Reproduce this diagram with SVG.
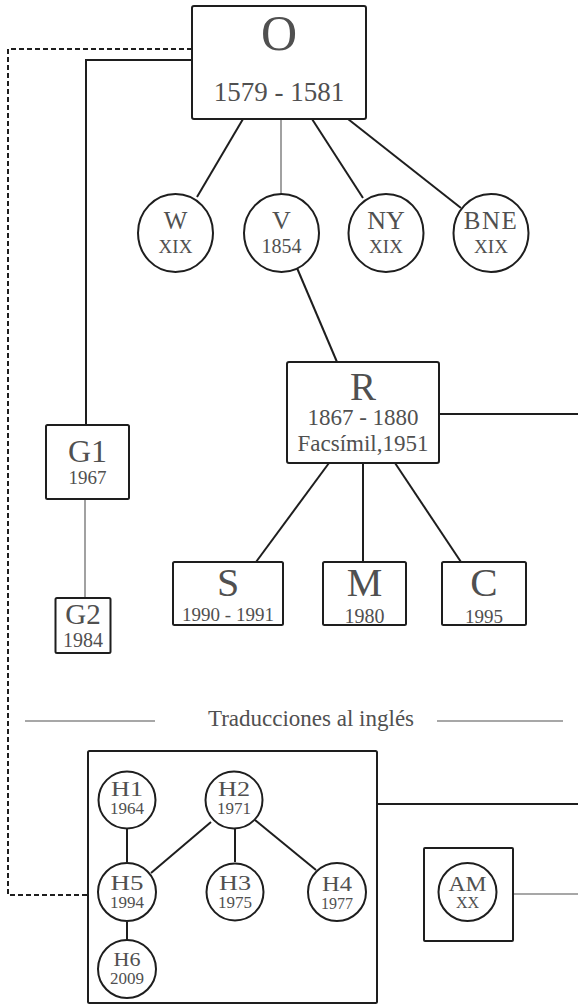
<svg xmlns="http://www.w3.org/2000/svg" width="578" height="1005" viewBox="0 0 578 1005">
<style>
.box{fill:#fff;stroke:#1e1e1e;stroke-width:2}
.nd{fill:#fff;stroke:#1e1e1e;stroke-width:2}
.ln{fill:none;stroke:#1e1e1e;stroke-width:2}
.gl{fill:none;stroke:#8a8a8a;stroke-width:1.6}
.dl{fill:none;stroke:#1e1e1e;stroke-width:2;stroke-dasharray:5 3}
text{font-family:"Liberation Serif","Times New Roman",serif;fill:#505050;text-anchor:middle}
</style>
<g id="connectors">
<polyline class="dl" points="192,49 8,49 8,895 88,895"/>
<polyline class="ln" points="192,60 86,60 86,425"/>
<line class="ln" x1="243" y1="119" x2="197" y2="197"/>
<line class="gl" x1="281" y1="119" x2="281" y2="194"/>
<line class="ln" x1="312" y1="119" x2="363" y2="198"/>
<line class="ln" x1="348" y1="119" x2="461" y2="208"/>
<line class="ln" x1="297" y1="268" x2="337" y2="362"/>
<line class="ln" x1="439" y1="414" x2="578" y2="414"/>
<line class="ln" x1="329" y1="463" x2="256" y2="562"/>
<line class="ln" x1="363" y1="463" x2="363" y2="562"/>
<line class="ln" x1="395" y1="463" x2="461" y2="562"/>
<line class="gl" x1="85" y1="499" x2="85" y2="598"/>
<line class="gl" x1="25" y1="721" x2="155" y2="721"/>
<line class="gl" x1="437" y1="721" x2="563" y2="721"/>
<line class="ln" x1="377" y1="804" x2="578" y2="804"/>
<line class="gl" x1="513" y1="894" x2="578" y2="894"/>
</g>
<g id="node-O">
<rect class="box" x="192" y="6" width="174" height="113" rx="2"/>
<text x="279" y="50" font-size="50">O</text>
<text x="279" y="101" font-size="27">1579 - 1581</text>
</g>
<g id="node-W">
<ellipse class="nd" cx="175.5" cy="233" rx="37.5" ry="39"/>
<text x="175.5" y="229" font-size="25">W</text>
<text x="175.5" y="253" font-size="19">XIX</text>
</g>
<g id="node-V">
<ellipse class="nd" cx="281.5" cy="233" rx="37.5" ry="39"/>
<text x="281.5" y="229" font-size="26">V</text>
<text x="281.5" y="253" font-size="20">1854</text>
</g>
<g id="node-NY">
<ellipse class="nd" cx="386" cy="233" rx="37.5" ry="39"/>
<text x="386" y="229" font-size="26">NY</text>
<text x="386" y="253" font-size="19">XIX</text>
</g>
<g id="node-BNE">
<ellipse class="nd" cx="491" cy="233" rx="37.5" ry="39"/>
<text x="491" y="229" font-size="25" letter-spacing="1.5">BNE</text>
<text x="491" y="253" font-size="19">XIX</text>
</g>
<g id="node-R">
<rect class="box" x="287" y="362" width="152" height="101" rx="2"/>
<text x="363" y="400" font-size="39">R</text>
<text x="363" y="425" font-size="23">1867 - 1880</text>
<text x="363" y="451" font-size="23">Facsímil,1951</text>
</g>
<g id="node-G1">
<rect class="box" x="46" y="425" width="83" height="74" rx="1.5"/>
<text x="87.5" y="462" font-size="32">G1</text>
<text x="87.5" y="484" font-size="19">1967</text>
</g>
<g id="node-G2">
<rect class="box" x="55.5" y="598" width="55" height="55" rx="1.5"/>
<text x="83" y="624" font-size="29">G2</text>
<text x="83" y="647" font-size="20">1984</text>
</g>
<g id="node-S">
<rect class="box" x="173" y="562" width="110" height="63" rx="1.5"/>
<text x="228" y="596" font-size="40">S</text>
<text x="228" y="621" font-size="19">1990 - 1991</text>
</g>
<g id="node-M">
<rect class="box" x="323" y="562" width="83" height="63" rx="1.5"/>
<text x="364.5" y="596" font-size="40">M</text>
<text x="364.5" y="623" font-size="20">1980</text>
</g>
<g id="node-C">
<rect class="box" x="442" y="562" width="84" height="63" rx="1.5"/>
<text x="484" y="596" font-size="41">C</text>
<text x="484" y="623" font-size="19">1995</text>
</g>
<g id="title">
<text x="311" y="726" font-size="23">Traducciones al inglés</text>
</g>
<g id="group-H">
<rect class="box" x="88" y="751" width="289" height="252" rx="1.5"/>
<g id="connectors-H">
<line class="ln" x1="127" y1="828" x2="127" y2="862"/>
<line class="ln" x1="211" y1="822" x2="151" y2="873"/>
<line class="ln" x1="235" y1="828" x2="235" y2="862"/>
<line class="ln" x1="255" y1="820" x2="316" y2="870"/>
<line class="ln" x1="127" y1="922" x2="127" y2="940"/>
</g>
</g>
<g id="node-H1">
<circle class="nd" cx="127" cy="800" r="28.5"/>
<text x="127" y="796" font-size="20" textLength="32" lengthAdjust="spacingAndGlyphs">H1</text>
<text x="127" y="814" font-size="17">1964</text>
</g>
<g id="node-H2">
<circle class="nd" cx="234" cy="800" r="28.5"/>
<text x="234" y="796" font-size="20" textLength="32" lengthAdjust="spacingAndGlyphs">H2</text>
<text x="234" y="814" font-size="17">1971</text>
</g>
<g id="node-H5">
<circle class="nd" cx="127" cy="892" r="29"/>
<text x="127" y="890" font-size="20" textLength="33" lengthAdjust="spacingAndGlyphs">H5</text>
<text x="127" y="908" font-size="17">1994</text>
</g>
<g id="node-H3">
<circle class="nd" cx="235" cy="892" r="28.5"/>
<text x="235" y="890" font-size="20" textLength="32" lengthAdjust="spacingAndGlyphs">H3</text>
<text x="235" y="908" font-size="17">1975</text>
</g>
<g id="node-H4">
<circle class="nd" cx="337" cy="892" r="29"/>
<text x="337" y="891" font-size="20" textLength="30" lengthAdjust="spacingAndGlyphs">H4</text>
<text x="337" y="909" font-size="16">1977</text>
</g>
<g id="node-H6">
<circle class="nd" cx="127" cy="969" r="29"/>
<text x="127" y="966" font-size="18" textLength="27" lengthAdjust="spacingAndGlyphs">H6</text>
<text x="127" y="984" font-size="17">2009</text>
</g>
<g id="node-AM">
<rect class="box" x="424" y="848" width="89" height="93" rx="1"/>
<circle class="nd" cx="467.5" cy="892" r="29"/>
<text x="467.5" y="891" font-size="22" textLength="38" lengthAdjust="spacingAndGlyphs">AM</text>
<text x="467.5" y="908" font-size="16">XX</text>
</g>
</svg>
